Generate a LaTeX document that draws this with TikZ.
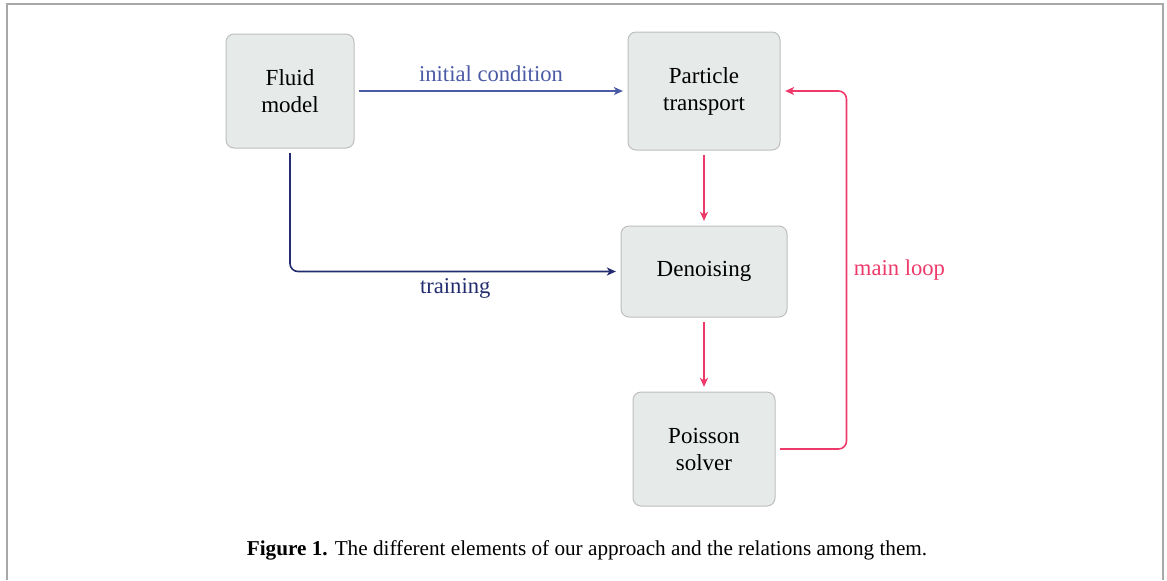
\documentclass[tikz,border=0pt]{standalone}
\usepackage{fontspec}
\setmainfont{Liberation Serif}
\usepackage{xcolor}
\usepackage{tikz}
\usetikzlibrary{positioning, arrows.meta}
\definecolor{cInit}{HTML}{4A5AA4}
\definecolor{cTrain}{HTML}{232C6E}
\definecolor{cLoop}{HTML}{EE3A6A}
\definecolor{nFill}{HTML}{E6EAE8}
\definecolor{nLine}{HTML}{BEBEBE}
\definecolor{nFrame}{HTML}{A8A8A8}
\tikzset{
  block/.style={draw=nLine, fill=nFill, rounded corners=4pt, line width=0.5pt,
    align=center, inner sep=2pt, font=\fontsize{11.5}{13.5}\selectfont},
  link/.style={line width=0.8pt, rounded corners=4pt, shorten <=2.3pt, shorten >=2.3pt,
    -{Stealth[length=4.5pt, width=4pt, inset=1.2pt]}},
  lbl/.style={font=\fontsize{11.3}{13.5}\selectfont},
}

\begin{document}
\begin{tikzpicture}
        \useasboundingbox (0,0) rectangle (583.5pt,-290pt);
        \draw[nFrame, line width=0.6pt] (3.5pt,-290pt) |- (581.5pt,-2pt) -- (581.5pt,-290pt);

        \node[block, minimum width=64pt, minimum height=57pt] (fluid) at (145pt,-45.5pt) {Fluid\\model};
        \node[block, minimum width=76pt, minimum height=59pt, right=136.5pt of fluid] (transport) {Particle\\transport};
        \node[block, minimum width=83pt, minimum height=45.5pt, below=37.5pt of transport] (denoise) {Denoising};
        \node[block, minimum width=71pt, minimum height=57pt, below=37pt of denoise] (poisson) {Poisson\\solver};

        \draw[link, cInit] (fluid) -- node[lbl, above=1pt] {initial condition} (transport);
        \draw[link, cTrain] (fluid) |- node[lbl, below, pos=0.75] {training} (denoise);
        \draw[link, cLoop] (transport) -- (denoise);
        \draw[link, cLoop] (denoise) -- (poisson);
        \draw[link, cLoop] (poisson.east) -- ++(35.5pt,0) |- node[lbl, right, pos=0.25] {main loop} (transport.east);

        \node[font=\fontsize{10.6}{12}\selectfont] (caption) at (293.5pt,-275pt)
          {\textbf{Figure 1.} The different elements of our approach and the relations among them.};
      \end{tikzpicture}
\end{document}
